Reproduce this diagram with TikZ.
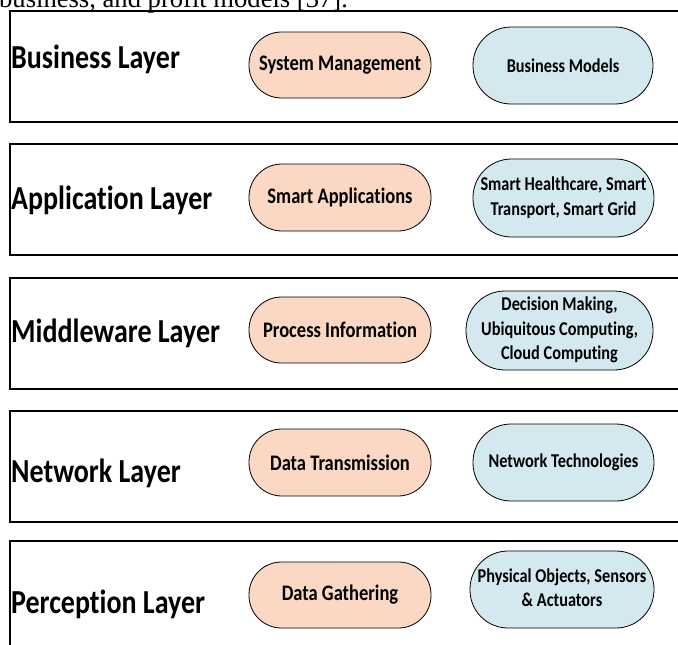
\documentclass[tikz,border=0pt]{standalone}
\usepackage{fontspec}
\usepackage{graphicx}
\setmainfont{Carlito}[Ligatures=NoCommon]
\newfontfamily\captionserif{Liberation Serif}
\definecolor{peach}{RGB}{251,216,196}
\definecolor{paleblue}{RGB}{211,232,239}
% Calibri-style text drawn slightly taller than wide
\newcommand\tallbox[1]{\scalebox{1}[1.2]{#1}}
\newcommand\lines[1]{\tallbox{\begin{tabular}{@{}c@{}}#1\end{tabular}}}
\tikzset{
  layerbox/.style={draw=black, line width=2pt, minimum width=700pt,
    minimum height=111pt, anchor=north west, inner sep=0pt},
  layername/.style={anchor=base west, inner sep=0pt,
    font=\bfseries\fontsize{28}{33}\selectfont},
  orangepill/.style={draw=black, line width=0.8pt, fill=peach, inner sep=0pt,
    minimum width=182pt, font=\bfseries\fontsize{18.5}{22}\selectfont},
  bluepill/.style={draw=black, line width=0.8pt, fill=paleblue, inner sep=0pt,
    font=\bfseries\fontsize{16.3}{20.4}\selectfont},
}
\begin{document}
\begin{tikzpicture}[x=1pt, y=-1pt]
\useasboundingbox (0,0) rectangle (678,645);
\clip (0,0) rectangle (678,645);

% last line of the running text above the figure
\node (caption) [anchor=base west, inner sep=0pt,
  font=\captionserif\fontsize{26.6}{30}\selectfont] at (-1,7)
  {business, and profit models [37].};

% layer frames
\node (business)    [layerbox] at (9,10)  {};
\node (application) [layerbox] at (9,143) {};
\node (middleware)  [layerbox] at (9,277) {};
\node (network)     [layerbox] at (9,410) {};
\node (perception)  [layerbox] at (9,540) {};

% layer names
\node (businessname)    [layername] at (11,68)  {\tallbox{Business Layer}};
\node (applicationname) [layername] at (11,209) {\tallbox{Application Layer}};
\node (middlewarename)  [layername] at (11,342) {\tallbox{Middleware Layer}};
\node (networkname)     [layername] at (11,482) {\tallbox{Network Layer}};
\node (perceptionname)  [layername] at (11,613) {\tallbox{Perception Layer}};

% functions of each layer
\node (sysmgmt) [orangepill, minimum height=66pt, rounded corners=32.5pt]
  at (340,65) {\tallbox{System Management}};
\node (smartapps) [orangepill, minimum height=67pt, rounded corners=33pt]
  at (340,197.5) {\tallbox{Smart Applications}};
\node (process) [orangepill, minimum height=66pt, rounded corners=32.5pt]
  at (340,330) {\tallbox{Process Information}};
\node (transmit) [orangepill, minimum height=67pt, rounded corners=33pt]
  at (340,462.5) {\tallbox{Data Transmission}};
\node (gather) [orangepill, minimum height=66pt, rounded corners=32.5pt]
  at (340,595) {\tallbox{Data Gathering}};

% examples of each layer
\node (models) [bluepill, minimum width=180pt, minimum height=77pt,
  rounded corners=38pt] at (563,65.5) {\tallbox{Business Models}};
\node (domains) [bluepill, minimum width=181pt, minimum height=78pt,
  rounded corners=38.5pt] at (563.5,198)
  {\lines{Smart Healthcare, Smart\\Transport, Smart Grid}};
\node (computing) [bluepill, minimum width=187pt, minimum height=79pt,
  rounded corners=39pt] at (559.5,330.5)
  {\lines{Decision Making,\\Ubiquitous Computing,\\Cloud Computing}};
\node (nettech) [bluepill, minimum width=181pt, minimum height=77pt,
  rounded corners=38pt] at (563.5,462.5) {\tallbox{Network Technologies}};
\node (devices) [bluepill, minimum width=184pt, minimum height=77pt,
  rounded corners=38pt] at (562,589.5)
  {\lines{Physical Objects, Sensors\\\& Actuators}};
\end{tikzpicture}
\end{document}
